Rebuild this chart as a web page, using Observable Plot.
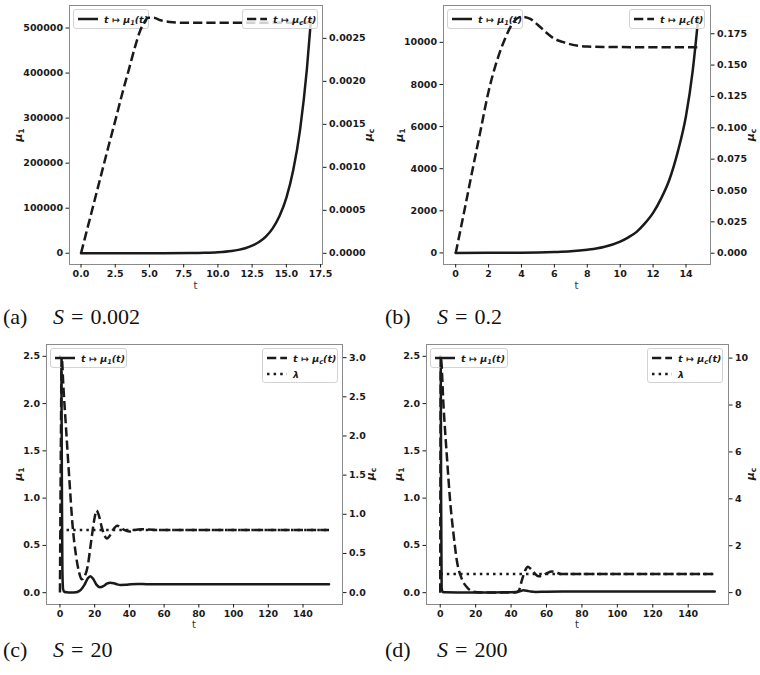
<!DOCTYPE html>
<html><head><meta charset="utf-8">
<script src="https://cdn.jsdelivr.net/npm/d3@7"></script>
<script src="https://cdn.jsdelivr.net/npm/@observablehq/plot@0.6"></script>
<style>
body{margin:0;background:#fff;}
#root{position:relative;width:760px;height:675px;overflow:hidden;font-family:"DejaVu Sans",sans-serif;color:#1a1a1a;}
.layer{position:absolute;left:0;top:0;}
.legend{position:absolute;background:rgba(255,255,255,0.8);border:1px solid #d3d3d3;border-radius:3px;box-sizing:border-box;font:bold italic 9.5px "DejaVu Sans",sans-serif;color:#1a1a1a;}
.legend sub{font-size:70%;vertical-align:-2px;line-height:0;}
.ylab{position:absolute;font:bold 11px "DejaVu Sans",sans-serif;transform:translate(-50%,-50%) rotate(-90deg);white-space:nowrap;}
.ylab i{font-style:italic;}
.ylab sub{font-size:70%;vertical-align:-2px;line-height:0;}
.xlab{position:absolute;font:10px "DejaVu Sans",sans-serif;color:#333;transform:translate(-50%,-50%);}
.cap{position:absolute;font:22px "Liberation Serif",serif;line-height:22px;white-space:nowrap;color:#111;}
.cap .eq{margin:0 7px;}
</style></head>
<body><div id="root"></div>
<script>
// ---------- data ----------
// (a) S = 0.002
const tA1  = [0,2,4,6,8,9,10,11,11.5,12,12.5,13,13.5,14,14.5,15,15.5,16,16.5,16.8];
const mu1A = [1,4,18,90,450,1000,2250,5000,7500,11200,16700,24900,37100,55300,82500,123000,184000,274000,409000,520000];
const tA2  = [0,0.5,1,1.5,2,2.5,3,3.5,4,4.3,4.6,4.9,5.3,5.8,6.5,7.5,10,12.5,15,16.8];
const mucA = [0,0.00031,0.00062,0.00093,0.00124,0.00154,0.00185,0.00214,0.00243,0.00258,0.00268,0.00274,0.00274,0.00271,0.00269,0.00268,0.00268,0.00268,0.00268,0.00268];
// (b) S = 0.2
const tB1  = [0,2,4,6,7,8,9,10,10.5,11,11.5,12,12.5,13,13.5,14,14.4,14.75];
const mu1B = [1,3,8,40,75,150,280,540,740,1000,1400,1900,2600,3500,4800,6500,8600,11200];
const tB2  = [0,0.5,1,1.5,2,2.5,3,3.5,4,4.5,5,5.5,6,6.5,7,8,9,11,14.75];
const mucB = [0,0.032,0.065,0.097,0.129,0.153,0.171,0.184,0.1885,0.187,0.182,0.176,0.171,0.1685,0.1665,0.1648,0.1644,0.1643,0.1643];
// (c) S = 20
const tC1  = [0,0.8,1.1,1.4,1.8,2.5,4,6,8,10,12,14,16,17.5,19,21,23,25,27,29,31,33,35,38,41,45,50,60,80,100,130,155];
const mu1C = [2.5,2.45,1.2,0.25,0.04,0.01,0.004,0.002,0.003,0.008,0.03,0.08,0.15,0.175,0.15,0.085,0.058,0.07,0.095,0.106,0.1,0.088,0.082,0.083,0.09,0.092,0.09,0.09,0.09,0.09,0.09,0.09];
const tC2  = [0,0.5,1,2,3.5,5.4,7.3,9.2,11,12.5,14,16,18,20,21,22.5,24,25.5,27,28.5,30.5,33,35,37,40,43,47,55,70,100,130,155];
const mucC = [0,1.8,3.0,2.62,2.1,1.45,0.85,0.48,0.26,0.17,0.2,0.34,0.66,0.96,1.05,0.98,0.84,0.74,0.69,0.72,0.8,0.855,0.83,0.8,0.78,0.8,0.81,0.8,0.8,0.8,0.8,0.8];
const tLam = [0,155];
const lamC = [0.8,0.8];
// (d) S = 200
const tD1  = [0,0.3,0.5,0.8,1.5,3,10,20,30,40,43,45,47,49,51,54,60,80,100,130,155];
const mu1D = [2.5,2.48,1.0,0.05,0.006,0.004,0.003,0.003,0.003,0.004,0.006,0.015,0.025,0.02,0.012,0.008,0.011,0.012,0.012,0.012,0.012];
const tD2  = [0,0.3,1.9,3.8,5.6,7.5,9.4,12.2,15.1,17.9,21,25,30,35,40,43,44.5,46,48,49.5,51,53,55.5,57.5,60,63,65,68,72,80,100,130,155];
const mucD = [0,10.05,7.9,5.76,3.9,2.5,1.36,0.58,0.23,0.06,0.02,0.01,0.005,0.005,0.008,0.02,0.1,0.5,0.95,1.1,1.02,0.85,0.7,0.72,0.82,0.9,0.87,0.8,0.79,0.8,0.8,0.8,0.8];
const lamD = [0.8,0.8];

// ---------- ticks ----------
const xTicksA = [0,2.5,5,7.5,10,12.5,15,17.5];
const y1TicksA = [0,100000,200000,300000,400000,500000];
const y2TicksA = [0,0.0005,0.001,0.0015,0.002,0.0025];
const xTicksB = [0,2,4,6,8,10,12,14];
const y1TicksB = [0,2000,4000,6000,8000,10000];
const y2TicksB = [0,0.025,0.05,0.075,0.1,0.125,0.15,0.175];
const xTicksCD = [0,20,40,60,80,100,120,140];
const y1TicksCD = [0,0.5,1,1.5,2,2.5];
const y2TicksC = [0,0.5,1,1.5,2,2.5,3];
const y2TicksD = [0,2,4,6,8,10];

// ---------- captions / labels ----------
const captions = [
  {tag:"(a)", S:"0.002", x:3, sx:53, y:306},
  {tag:"(b)", S:"0.2", x:385, sx:437, y:306},
  {tag:"(c)", S:"20", x:3, sx:53, y:639},
  {tag:"(d)", S:"200", x:385, sx:437, y:639}
];
const legMu1 = '<i>t</i> ↦ <i>μ</i><sub>1</sub>(<i>t</i>)';
const legMuc = '<i>t</i> ↦ <i>μ</i><sub>c</sub>(<i>t</i>)';
const legLam = '<i>λ</i>';

const zip = (ts, vs) => ts.map((t,i)=>({t, v:vs[i]}));
const INK = "#1a1a1a";
const root = document.getElementById("root");

function addPanel(p){
  const div = document.createElement("div");
  div.style.cssText = `position:absolute;left:${p.left}px;top:${p.top}px;width:${p.w}px;height:${p.h}px;`;
  root.appendChild(div);
  const common = {
    width:p.w, height:p.h, marginLeft:p.ml, marginRight:p.mr, marginTop:p.mt, marginBottom:p.mb,
    style:{background:"transparent", fontFamily:'"DejaVu Sans", sans-serif', fontSize:"9.5px", fontWeight:"bold", color:INK, overflow:"visible"}
  };
  const base = Plot.plot({...common,
    x:{domain:p.xDom},
    y:{domain:p.y1Dom},
    marks:[
      Plot.frame({stroke:"#8a8a8a", strokeWidth:1}),
      Plot.axisX({ticks:p.xTicks, tickFormat:p.xFmt, tickSize:3.5, tickPadding:2.5, label:null}),
      Plot.axisY({anchor:"left", ticks:p.y1Ticks, tickFormat:p.y1Fmt, tickSize:3.5, tickPadding:3, label:null}),
      Plot.line(p.s1, {x:"t", y:"v", stroke:INK, strokeWidth:2.5, curve:"monotone-x"})
    ]});
  base.classList.add("layer");
  div.appendChild(base);

  // left legend (belongs to first axes, under the twin axes lines)
  addLegend(div, p.legL, [{dash:null, html:legMu1}]);

  const overMarks = [
    Plot.axisY({anchor:"right", ticks:p.y2Ticks, tickFormat:p.y2Fmt, tickSize:3.5, tickPadding:3, label:null})
  ];
  if (p.lam) overMarks.push(Plot.line(p.lam, {x:"t", y:"v", stroke:INK, strokeWidth:2.5, strokeDasharray:"2.5,4.1", strokeLinecap:"butt"}));
  overMarks.push(Plot.line(p.s2, {x:"t", y:"v", stroke:INK, strokeWidth:2.5, strokeDasharray:"9.25,4", strokeLinecap:"butt", curve:"monotone-x"}));
  const over = Plot.plot({...common,
    x:{domain:p.xDom, axis:null},
    y:{domain:p.y2Dom},
    marks:overMarks});
  over.classList.add("layer");
  div.appendChild(over);

  const rows = [{dash:"9.25,4", html:legMuc}];
  if (p.lam) rows.push({dash:"2.5,4.1", html:legLam});
  addLegend(div, p.legR, rows);

  // axis labels
  const fy = (p.mt + (p.h - p.mb))/2;
  const fx = (p.ml + (p.w - p.mr))/2;
  div.insertAdjacentHTML("beforeend",
    `<div class="ylab" style="left:${p.lx1}px;top:${fy}px"><i>μ</i><sub>1</sub></div>` +
    `<div class="ylab" style="left:${p.lx2}px;top:${fy}px"><i>μ</i><sub>c</sub></div>` +
    `<div class="xlab" style="left:${fx}px;top:${p.h - p.mb + p.tly}px">t</div>`);
}

function addLegend(parent, box, rows){
  const d = document.createElement("div");
  d.className = "legend";
  d.style.left = box.x + "px"; d.style.top = box.y + "px";
  d.style.width = box.w + "px"; d.style.height = box.h + "px";
  rows.forEach((r,i)=>{
    const row = document.createElement("div");
    row.style.cssText = `position:absolute;left:4px;top:${3 + i*16}px;height:12px;display:flex;align-items:center;white-space:nowrap;`;
    const dash = r.dash ? `stroke-dasharray="${r.dash}"` : "";
    row.innerHTML = `<svg width="20" height="6" style="display:block"><line x1="0" x2="20" y1="3" y2="3" stroke="${INK}" stroke-width="2.5" ${dash}/></svg><span style="margin-left:6px">${r.html}</span>`;
    d.appendChild(row);
  });
  parent.appendChild(d);
}

const fmt1 = d => d.toFixed(1);
const fmtInt = d => String(d);

addPanel({left:0, top:0, w:380, h:300, ml:69, mr:58, mt:5, mb:36,
  xDom:[-0.84,17.64], y1Dom:[-25000,550000], y2Dom:[-0.000130,0.002882],
  xTicks:xTicksA, xFmt:fmt1, y1Ticks:y1TicksA, y1Fmt:fmtInt, y2Ticks:y2TicksA, y2Fmt:d=>d.toFixed(4),
  s1:zip(tA1,mu1A), s2:zip(tA2,mucA), lam:null,
  legL:{x:73, y:9, w:76, h:20}, legR:{x:242, y:9, w:76, h:20},
  lx1:18, lx2:368, tly:21});

addPanel({left:380, top:0, w:380, h:300, ml:63, mr:50, mt:5, mb:36,
  xDom:[-0.74,15.49], y1Dom:[-550,11750], y2Dom:[-0.0090,0.1975],
  xTicks:xTicksB, xFmt:fmtInt, y1Ticks:y1TicksB, y1Fmt:fmtInt, y2Ticks:y2TicksB, y2Fmt:d=>d.toFixed(3),
  s1:zip(tB1,mu1B), s2:zip(tB2,mucB), lam:null,
  legL:{x:67, y:9, w:76, h:20}, legR:{x:249, y:9, w:76, h:20},
  lx1:19, lx2:370, tly:21});

addPanel({left:0, top:330, w:380, h:300, ml:46, mr:38, mt:14, mb:26,
  xDom:[-7.75,162.75], y1Dom:[-0.125,2.625], y2Dom:[-0.152,3.168],
  xTicks:xTicksCD, xFmt:fmtInt, y1Ticks:y1TicksCD, y1Fmt:fmt1, y2Ticks:y2TicksC, y2Fmt:fmt1,
  s1:zip(tC1,mu1C), s2:zip(tC2,mucC), lam:zip(tLam,lamC),
  legL:{x:50, y:18, w:77, h:20}, legR:{x:262, y:18, w:76, h:35},
  lx1:18, lx2:370, tly:20});

addPanel({left:380, top:330, w:380, h:300, ml:46, mr:32, mt:14, mb:26,
  xDom:[-7.75,162.75], y1Dom:[-0.125,2.625], y2Dom:[-0.505,10.58],
  xTicks:xTicksCD, xFmt:fmtInt, y1Ticks:y1TicksCD, y1Fmt:fmt1, y2Ticks:y2TicksD, y2Fmt:fmtInt,
  s1:zip(tD1,mu1D), s2:zip(tD2,mucD), lam:zip(tLam,lamD),
  legL:{x:50, y:18, w:78, h:20}, legR:{x:267, y:18, w:76, h:35},
  lx1:18, lx2:370, tly:20});

captions.forEach(c=>{
  root.insertAdjacentHTML("beforeend",
    `<div class="cap" style="left:${c.x}px;top:${c.y}px">${c.tag}</div>` +
    `<div class="cap" style="left:${c.sx}px;top:${c.y}px"><i>S</i><span class="eq">=</span>${c.S}</div>`);
});
</script>
</body></html>
